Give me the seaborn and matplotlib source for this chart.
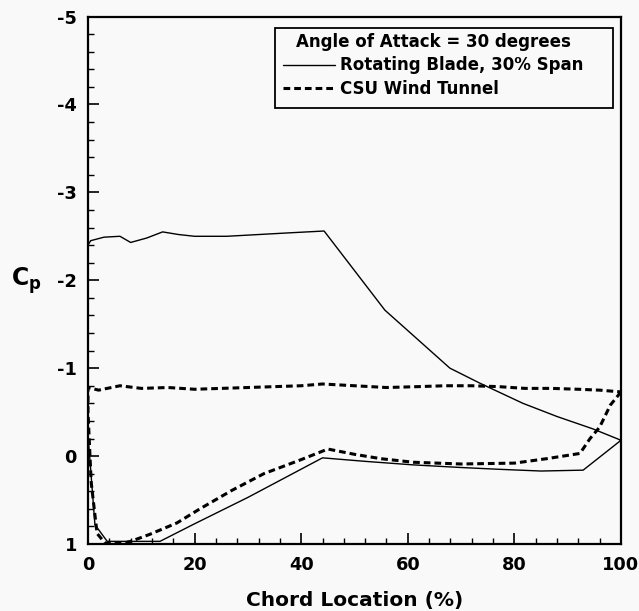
import matplotlib
matplotlib.use("Agg")
import matplotlib.pyplot as plt
import seaborn as sns
import pandas as pd
from matplotlib.lines import Line2D
from matplotlib.patches import Rectangle
from matplotlib.ticker import MultipleLocator

# ---- data ----
# Rotating Blade, 30% Span: lower surface (trailing edge -> leading edge), then upper surface
rot_lower_x = [100, 92.9, 85, 77, 70, 61, 52, 44, 30, 20, 13.5, 8, 3.6, 1.3, 0.0]
rot_lower_y = [-0.18, 0.16, 0.17, 0.15, 0.13, 0.10, 0.06, 0.02, 0.47, 0.77, 0.97, 0.97, 0.97, 0.78, -0.24]
rot_upper_x = [0.0, 0.5, 3, 6, 8, 11, 14, 17, 20, 26, 32, 38, 44.3, 55.7, 67.9, 73.5, 81.6, 88, 94.7, 100]
rot_upper_y = [-2.40, -2.45, -2.49, -2.50, -2.43, -2.48, -2.55, -2.52, -2.50, -2.50, -2.52, -2.54,
               -2.56, -1.66, -1.00, -0.83, -0.60, -0.45, -0.31, -0.18]

# CSU Wind Tunnel
csu_lower_x = [100, 98, 96, 94.2, 92.3, 86, 80, 70, 61, 55, 50, 45, 40, 33, 27, 21, 16.7, 11.6, 8, 6.6, 3.2, 1.7, 0.6, 0.0]
csu_lower_y = [-0.73, -0.58, -0.33, -0.20, -0.03, 0.03, 0.08, 0.09, 0.07, 0.03, -0.02, -0.08, 0.04,
               0.20, 0.39, 0.60, 0.76, 0.89, 0.97, 0.99, 0.99, 0.88, 0.30, -0.50]
csu_upper_x = [0.0, 2, 6, 10, 15, 20, 25, 30, 35, 40, 44, 50, 56, 62, 67, 72, 77, 82, 87, 92, 96, 100]
csu_upper_y = [-0.78, -0.75, -0.80, -0.77, -0.78, -0.76, -0.77, -0.78, -0.79, -0.80, -0.82, -0.80,
               -0.78, -0.79, -0.80, -0.80, -0.79, -0.77, -0.77, -0.76, -0.75, -0.73]

legend_title = "Angle of Attack = 30 degrees"
series_names = ["Rotating Blade, 30% Span", "CSU Wind Tunnel"]
x_ticks = [0, 20, 40, 60, 80, 100]
y_ticks = [1, 0, -1, -2, -3, -4, -5]

rot = pd.DataFrame({"x": rot_lower_x + rot_upper_x, "y": rot_lower_y + rot_upper_y})
csu = pd.DataFrame({"x": csu_lower_x + csu_upper_x, "y": csu_lower_y + csu_upper_y})

# ---- style ----
sns.set_theme(style="ticks")
plt.rcParams["font.family"] = ["DejaVu Sans"]
plt.rcParams["font.weight"] = "bold"
plt.rcParams["mathtext.fontset"] = "dejavusans"
plt.rcParams["text.color"] = "black"
plt.rcParams["axes.labelcolor"] = "black"
plt.rcParams["xtick.color"] = "black"
plt.rcParams["ytick.color"] = "black"
plt.rcParams["xtick.labelcolor"] = "black"
plt.rcParams["ytick.labelcolor"] = "black"

W, H = 639, 611
AX_L, AX_R, AX_T, AX_B = 88, 621, 16.5, 544
bg = "#f9f9f9"
fig = plt.figure(figsize=(W / 100, H / 100), dpi=100, facecolor=bg)
ax = fig.add_axes([AX_L / W, 1 - AX_B / H, (AX_R - AX_L) / W, (AX_B - AX_T) / H])
ax.set_facecolor(bg)

sns.lineplot(data=rot, x="x", y="y", sort=False, estimator=None, ax=ax,
             color="black", linewidth=1.0, linestyle="-")
sns.lineplot(data=csu, x="x", y="y", sort=False, estimator=None, ax=ax,
             color="black", linewidth=2.2, dashes=False)
ax.lines[-1].set_dashes((2.2, 1.3))

ax.set_xlim(0, 100)
ax.set_ylim(1, -5)
ax.set_xticks(x_ticks)
ax.set_yticks(y_ticks)
ax.set_xticklabels([str(t) for t in x_ticks])
ax.set_yticklabels([str(t) for t in y_ticks])
ax.xaxis.set_minor_locator(MultipleLocator(4))
ax.yaxis.set_minor_locator(MultipleLocator(0.2))
ax.tick_params(axis="both", which="major", direction="in", length=8, width=1.2,
               labelsize=12.8, colors="black", labelcolor="black")
ax.tick_params(axis="x", which="major", pad=9)
ax.tick_params(axis="y", which="major", pad=8)
ax.tick_params(axis="both", which="minor", direction="in", length=4, width=1.0, colors="black")
for lab in ax.get_xticklabels() + ax.get_yticklabels():
    lab.set_fontweight("bold")
    lab.set_color("black")

for s in ax.spines.values():
    s.set_visible(True)
    s.set_linewidth(1.6)
    s.set_color("black")

ax.set_xlabel("Chord Location (%)", fontsize=14.5, fontweight="bold", labelpad=12, color="black")
ax.set_ylabel(r"$\mathbf{C}_{\mathbf{p}}$", fontsize=17, fontweight="bold", rotation=0, labelpad=22,
              va="center", color="black")

# legend box (drawn as a frame in axes coordinates)
aw, ah = AX_R - AX_L, AX_B - AX_T
box_l, box_r, box_t, box_b = 275, 613, 28, 108
ax.add_patch(Rectangle(((box_l - AX_L) / aw, (AX_B - box_b) / ah),
                       (box_r - box_l) / aw, (box_b - box_t) / ah,
                       transform=ax.transAxes, facecolor=bg, edgecolor="black",
                       linewidth=1.3, zorder=4, clip_on=False))

handles = [Line2D([], [], color="black", lw=1.0, ls="-"),
           Line2D([], [], color="black", lw=2.2, dashes=(2.2, 1.3))]
leg = ax.legend(handles, series_names, title=legend_title, loc="upper left",
                bbox_to_anchor=((283 - AX_L) / aw, (AX_B - 33) / ah), frameon=False,
                prop={"size": 12, "weight": "bold"}, title_fontproperties={"size": 12, "weight": "bold"},
                handlelength=3.1, handletextpad=0.3, borderpad=0.0, labelspacing=0.32,
                borderaxespad=0.0, labelcolor="black")
leg.get_title().set_color("black")
leg.set_zorder(5)

fig.savefig("out.png", dpi=100, facecolor=bg)
